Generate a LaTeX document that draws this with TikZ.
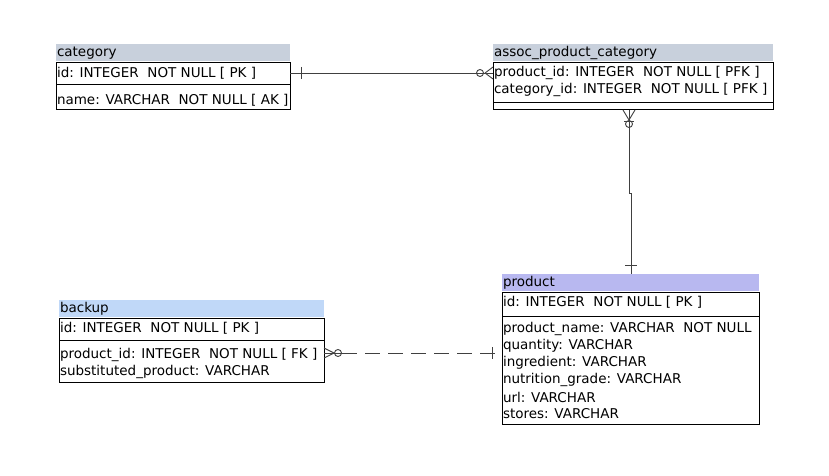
\documentclass[tikz,border=0pt]{standalone}
\usepackage{fontspec}
\setmainfont{DejaVu Sans}
\begin{document}
\begin{tikzpicture}[x=1pt,y=-1pt,
  every node/.style={inner sep=0pt,outer sep=0pt},
  txt/.style={anchor=west,font=\fontsize{13.5}{15}\selectfont},
  box/.style={draw=black,line width=0.9pt,anchor=north west},
  tbar/.style={anchor=north west},
  conn/.style={draw=black!75,line width=0.9pt},
  dashconn/.style={conn,dash pattern=on 15pt off 8pt}]
\useasboundingbox[fill=white] (0,0) rectangle (829,476);
\definecolor{tgray}{HTML}{C8D0DC}
\definecolor{tblue}{HTML}{C0D8F8}
\definecolor{tlav}{HTML}{B8B8F0}
% category
\node[tbar,fill=tgray,minimum width=234pt,minimum height=17pt] (cat-t) at (56,44) {};
\node[txt] at (57,53) {category};
\node[box,minimum width=234pt,minimum height=47pt] (cat) at (56,62) {};
\draw[line width=0.9pt] (56,84) -- (290,84);
\node[txt] (cat-id) at (57,73) {id: INTEGER\ \ NOT NULL [ PK ]};
\node[txt] at (57,100) {name: VARCHAR\ \ NOT NULL [ AK ]};
% assoc
\node[tbar,fill=tgray,minimum width=280pt,minimum height=17pt] (asc-t) at (493,44) {};
\node[txt] at (494,53) {assoc\_product\_category};
\node[box,minimum width=280pt,minimum height=47pt] (asc) at (493,62) {};
\draw[line width=0.9pt] (493,102) -- (773,102);
\node[txt] at (494,73) {product\_id: INTEGER\ \ NOT NULL [ PFK ]};
\node[txt] at (494,90) {category\_id: INTEGER\ \ NOT NULL [ PFK ]};
% product
\node[tbar,fill=tlav,minimum width=257pt,minimum height=17pt] (prd-t) at (502,274) {};
\node[txt] at (503,283) {product};
\node[box,minimum width=257pt,minimum height=132pt] (prd) at (502,292) {};
\draw[line width=0.9pt] (502,316) -- (759,316);
\node[txt] at (503,302) {id: INTEGER\ \ NOT NULL [ PK ]};
\node[txt] at (503,329) {product\_name: VARCHAR\ \ NOT NULL};
\node[txt] at (503,346) {quantity: VARCHAR};
\node[txt] at (503,363) {ingredient: VARCHAR};
\node[txt] at (503,380) {nutrition\_grade: VARCHAR};
\node[txt] at (503,397) {url: VARCHAR};
\node[txt] at (503,414) {stores: VARCHAR};
% backup
\node[tbar,fill=tblue,minimum width=265pt,minimum height=17pt] (bak-t) at (59,300) {};
\node[txt] at (60,309) {backup};
\node[box,minimum width=265pt,minimum height=64pt] (bak) at (59,318) {};
\draw[line width=0.9pt] (59,340) -- (324,340);
\node[txt] at (60,328) {id: INTEGER\ \ NOT NULL [ PK ]};
\node[txt] at (60,355) {product\_id: INTEGER\ \ NOT NULL [ FK ]};
\node[txt] at (60,372) {substituted\_product: VARCHAR};
% connector category - assoc
\coordinate (c1a) at (290,73);
\coordinate (c1b) at (493,73);
\draw[conn] (c1a) -- (c1b);
\draw[conn] (301,67) -- (301,79);
\draw[conn] (485,73) -- (493,67) (485,73) -- (493,79);
\draw[conn] (480,73) circle (3.5);
% connector assoc - product
\coordinate (c2a) at (629,110);
\coordinate (c2m1) at (629,193);
\coordinate (c2m2) at (631,193);
\coordinate (c2b) at (631,274);
\draw[conn] (c2a) -- (c2m1) -- (c2m2) -- (c2b);
\draw[conn] (629,120) -- (623,110) (629,120) -- (635,110);
\draw[conn] (629,124) circle (3.5);
\draw[conn] (624,121) -- (634,121);
\draw[conn] (625,265) -- (637,265);
% connector backup - product
\coordinate (c3a) at (324,353);
\coordinate (c3b) at (502,353);
\draw[dashconn] (342,353) -- (c3b);
\draw[conn] (324,353) -- (342,353);
\draw[conn] (334,353) -- (324,348) (334,353) -- (324,358);
\draw[conn] (338,353) circle (3.5);
\draw[conn] (492,347) -- (492,359);
\end{tikzpicture}
\end{document}
